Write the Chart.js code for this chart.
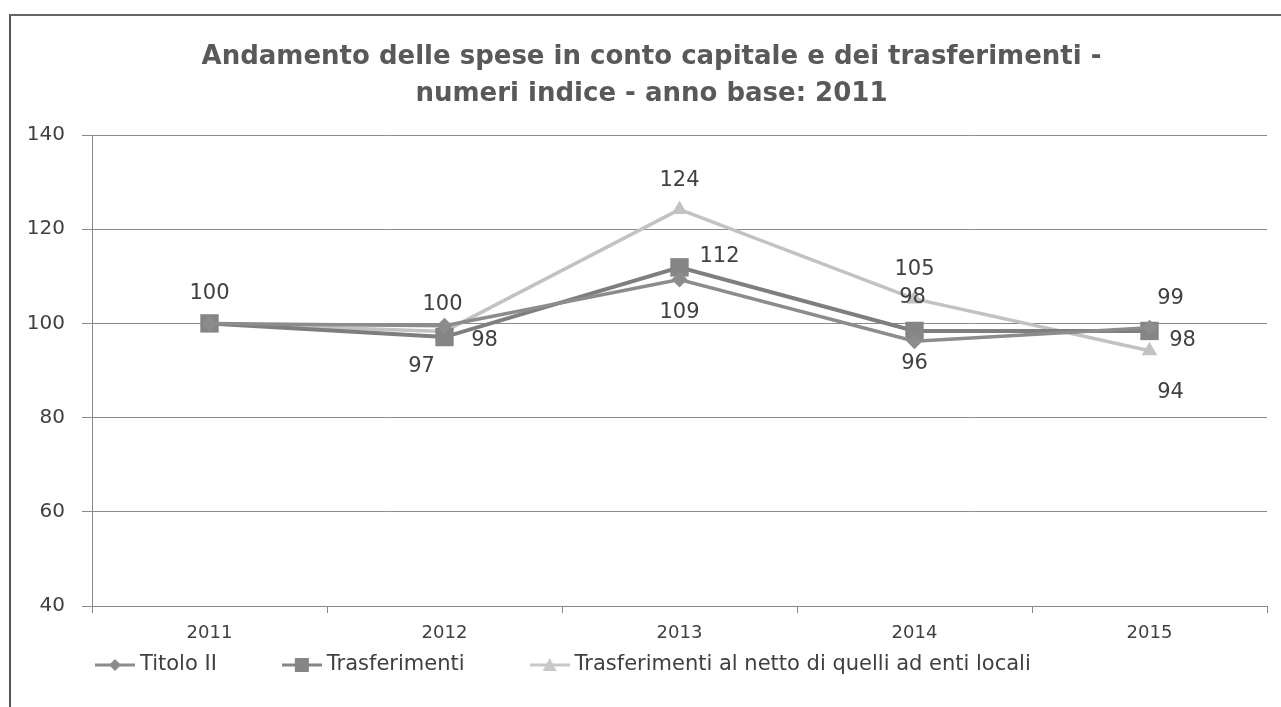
<!DOCTYPE html>
<html>
<head>
<meta charset="utf-8">
<script src="https://cdn.jsdelivr.net/npm/chart.js@4.4.1/dist/chart.umd.min.js"></script>
<style>
  html, body { margin: 0; padding: 0; background: #fff; }
  #wrap { position: relative; width: 1281px; height: 707px; overflow: hidden; }
  #frame { position: absolute; left: 9px; top: 14px; width: 1300px; height: 720px;
           border-left: 2px solid #555; border-top: 2px solid #666; }
  canvas { position: absolute; left: 0; top: 0; }
</style>
</head>
<body>
<div id="wrap">
  <div id="frame"></div>
  <canvas id="chart" width="1281" height="707"></canvas>
</div>
<script>
const years = ["2011", "2012", "2013", "2014", "2015"];
const titoloII = [100, 99.5, 109.3, 96.2, 99.1];
const trasferimenti = [100, 97.1, 111.9, 98.4, 98.4];
const trasfNetto = [100, 98.3, 124.2, 105.2, 94.2];
const lblTitolo = ["100", "100", "109", "96", "99"];
const lblTrasf = ["", "97", "112", "98", "98"];
const lblNetto = ["", "98", "124", "105", "94"];

const FONT = "'DejaVu Sans', Verdana, sans-serif";
const TXT = "#404040";

// legend symbol: line with marker in the middle
function legendIcon(color, marker) {
  const c = document.createElement("canvas");
  c.width = 40; c.height = 18;
  const g = c.getContext("2d");
  g.strokeStyle = color; g.fillStyle = color; g.lineWidth = 3;
  g.beginPath(); g.moveTo(0, 9); g.lineTo(40, 9); g.stroke();
  g.beginPath();
  if (marker === "diamond") {
    g.moveTo(20, 3); g.lineTo(26, 9); g.lineTo(20, 15); g.lineTo(14, 9);
  } else if (marker === "square") {
    g.rect(13, 2, 14, 14);
  } else {
    g.moveTo(20, 2); g.lineTo(27, 15); g.lineTo(13, 15);
  }
  g.closePath(); g.fill();
  return c;
}

// title sits a bit right of the canvas centre in the original
const titleShift = {
  id: "titleShift",
  afterLayout(chart) {
    if (chart.titleBlock) {
      chart.titleBlock.left += 26;
    }
  }
};

// data labels, offset per point (dx, dy from the marker)
const labelPlugin = {
  id: "pointLabels",
  afterDatasetsDraw(chart) {
    const ctx = chart.ctx;
    ctx.save();
    ctx.font = "21px " + FONT;
    ctx.fillStyle = TXT;
    ctx.textAlign = "center";
    ctx.textBaseline = "middle";
    chart.data.datasets.forEach((ds, i) => {
      const meta = chart.getDatasetMeta(i);
      meta.data.forEach((pt, j) => {
        const txt = ds.labels[j];
        if (!txt) return;
        const off = ds.labelOffsets[j];
        ctx.fillText(txt, pt.x + off[0], pt.y + off[1]);
      });
    });
    ctx.restore();
  }
};

// legend drawn under the axis, line + marker symbols
const legendPlugin = {
  id: "lineLegend",
  afterDraw(chart) {
    const ctx = chart.ctx;
    ctx.save();
    ctx.font = "21px " + FONT;
    ctx.fillStyle = TXT;
    ctx.textBaseline = "middle";
    let x = 95;
    const y = 665;
    chart.data.datasets.forEach(ds => {
      ctx.drawImage(ds.pointStyleIcon, x, y - 9);
      x += 45;
      ctx.fillText(ds.label, x, y);
      x += ctx.measureText(ds.label).width + 65;
    });
    ctx.restore();
  }
};

new Chart(document.getElementById("chart"), {
  type: "line",
  data: {
    labels: years,
    datasets: [
      {
        label: "Titolo II",
        data: titoloII,
        labels: lblTitolo,
        labelOffsets: [[0, -30], [-2, -21], [0, 33], [0, 22], [21, -29]],
        borderColor: "#8c8c8c",
        backgroundColor: "#8c8c8c",
        borderWidth: 3.5,
        pointStyle: "rectRot",
        pointRadius: 8,
        pointBorderWidth: 0,
        pointStyleIcon: legendIcon("#8c8c8c", "diamond")
      },
      {
        label: "Trasferimenti",
        data: trasferimenti,
        labels: lblTrasf,
        labelOffsets: [[0, 0], [-23, 29], [40, -11], [-2, -33], [33, 10]],
        borderColor: "#7e7e7e",
        backgroundColor: "#858585",
        borderWidth: 4,
        pointStyle: "rect",
        pointRadius: 13,
        pointBorderWidth: 0,
        pointStyleIcon: legendIcon("#868686", "square")
      },
      {
        label: "Trasferimenti al netto di quelli ad enti locali",
        data: trasfNetto,
        labels: lblNetto,
        labelOffsets: [[0, 0], [40, 9], [0, -29], [0, -29], [21, 42]],
        borderColor: "#c2c2c2",
        backgroundColor: "#c2c2c2",
        borderWidth: 3.5,
        pointStyle: "triangle",
        pointRadius: 9,
        pointBorderWidth: 0,
        pointStyleIcon: legendIcon("#c8c8c8", "triangle")
      }
    ]
  },
  options: {
    responsive: false,
    animation: false,
    layout: { padding: { left: 10, right: 14, top: 39, bottom: 56 } },
    elements: { line: { tension: 0 } },
    scales: {
      x: {
        offset: true,
        grid: { drawOnChartArea: false, offset: true, tickLength: 7, color: "#888" },
        border: { display: true, color: "#888" },
        ticks: { color: TXT, font: { family: FONT, size: 18 }, padding: 10 },
        afterFit(s) { s.height = 45; }
      },
      y: {
        min: 40, max: 140,
        ticks: { stepSize: 20, color: TXT, font: { family: FONT, size: 20 }, padding: 17 },
        grid: { color: "#8a8a8a", tickLength: 10 },
        border: { display: true, color: "#888" },
        afterFit(s) { s.width = 82; }
      }
    },
    plugins: {
      title: {
        display: true,
        text: ["Andamento delle spese in conto capitale e dei trasferimenti -",
               "numeri indice - anno base: 2011"],
        color: "#595959",
        font: { family: FONT, size: 26, weight: "bold", lineHeight: "37px" },
        padding: { top: 0, bottom: 22 }
      },
      legend: { display: false },
      tooltip: { enabled: false }
    }
  },
  plugins: [titleShift, labelPlugin, legendPlugin]
});
</script>
</body>
</html>
